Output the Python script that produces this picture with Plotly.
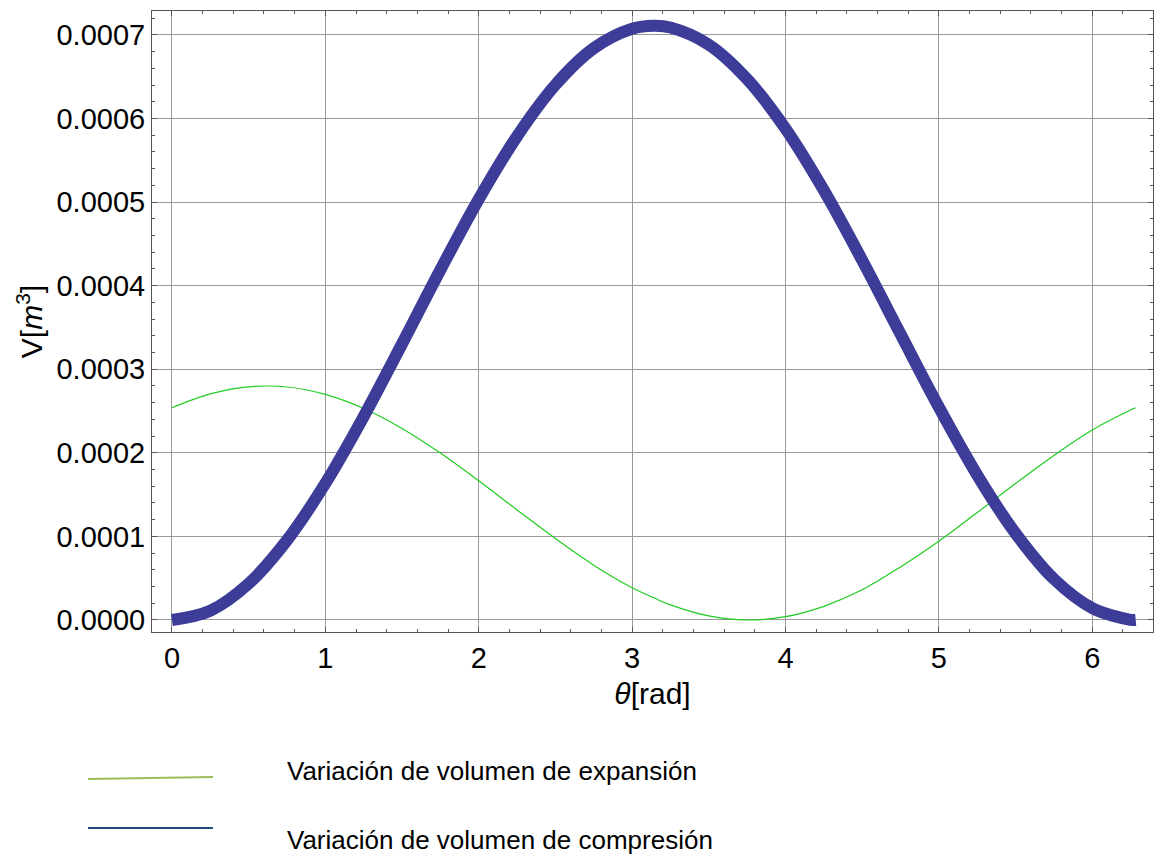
import plotly.graph_objects as go

theta = [0, 0.25, 0.5, 0.75, 1.0, 1.25, 1.5, 1.75, 2.0, 2.25, 2.5, 2.75, 3.0, 3.1416,
         3.25, 3.5, 3.75, 4.0, 4.25, 4.5, 4.75, 5.0, 5.25, 5.5, 5.75, 6.0, 6.25, 6.2832]

v_compresion = [0.0, 0.0000111, 0.0000435, 0.0000954, 0.0001634, 0.0002434, 0.0003304,
                0.0004189, 0.0005034, 0.0005788, 0.0006403, 0.0006841, 0.0007074, 0.000711,
                0.0007089, 0.0006884, 0.0006472, 0.0005879, 0.0005141, 0.0004304, 0.0003421,
                0.0002546, 0.0001734, 0.0001036, 0.0000490, 0.0000142, 0.0000002, 0.0]

v_expansion = [0.0002539, 0.0002705, 0.0002790, 0.0002788, 0.0002700, 0.0002531, 0.0002292,
               0.0001997, 0.0001665, 0.0001317, 0.0000974, 0.0000656, 0.0000386, 0.0000265,
               0.0000180, 0.0000048, 0.0000000, 0.0000039, 0.0000163, 0.0000361, 0.0000635,
               0.0000943, 0.0001285, 0.0001633, 0.0001969, 0.0002273, 0.0002512, 0.0002539]

x_ticks = [0, 1, 2, 3, 4, 5, 6]
y_ticks = [0.0, 0.0001, 0.0002, 0.0003, 0.0004, 0.0005, 0.0006, 0.0007]
y_ticklabels = ["0.0000", "0.0001", "0.0002", "0.0003", "0.0004", "0.0005", "0.0006", "0.0007"]

legend_labels = ["Variación de volumen de expansión", "Variación de volumen de compresión"]
legend_colors = ["#9bbb59", "#1f497d"]

FONT = "Liberation Sans, Arial, sans-serif"

fig = go.Figure()
fig.add_trace(go.Scatter(x=theta, y=v_expansion, mode="lines",
                         line=dict(color="#22cc22", width=1.2, shape="spline"),
                         showlegend=False))
fig.add_trace(go.Scatter(x=theta, y=v_compresion, mode="lines",
                         line=dict(color="#3d3d99", width=12, shape="spline"),
                         showlegend=False))

# custom legend drawn below the plot (paper coords relative to plot area)
legend_line_y = [(-0.2367, -0.2335), (-0.3156, -0.3156)]
legend_text_y = [-0.224, -0.335]
for lbl, col, (ya, yb), yt in zip(legend_labels, legend_colors, legend_line_y, legend_text_y):
    fig.add_shape(type="line", xref="paper", yref="paper",
                  x0=-0.0639, x1=0.0609, y0=ya, y1=yb,
                  line=dict(color=col, width=2))
    fig.add_annotation(xref="paper", yref="paper", x=0.1329, y=yt,
                       text=lbl, showarrow=False, xanchor="left", yanchor="middle",
                       font=dict(family=FONT, size=26, color="#000"))

axis_common = dict(
    showline=True, linecolor="#555555", linewidth=1, mirror="ticks",
    ticks="inside", ticklen=5, tickcolor="#555555",
    showgrid=True, gridcolor="#999999", gridwidth=1,
    zeroline=False,
    tickfont=dict(family=FONT, size=29, color="#000"),
)

fig.update_xaxes(range=[-0.130, 6.396], tickvals=x_ticks,
                 minor=dict(ticks="inside", ticklen=3, dtick=0.2, tick0=0,
                            tickcolor="#555555", showgrid=False),
                 title=dict(text="<i>θ</i>[rad]", standoff=10,
                            font=dict(family=FONT, size=30, color="#000")),
                 **axis_common)
fig.update_yaxes(range=[-0.0000144, 0.0007287], tickvals=y_ticks, ticktext=y_ticklabels,
                 minor=dict(ticks="inside", ticklen=3, dtick=0.00002, tick0=0,
                            tickcolor="#555555", showgrid=False),
                 title=dict(text="V[<i>m</i><sup>3</sup>]", standoff=4,
                            font=dict(family=FONT, size=30, color="#000")),
                 **axis_common)

fig.update_layout(width=1154, height=855,
                  margin=dict(l=152, r=1, t=11, b=223),
                  plot_bgcolor="white", paper_bgcolor="white",
                  font=dict(family=FONT, color="#000"))

fig.write_html("out.html")
